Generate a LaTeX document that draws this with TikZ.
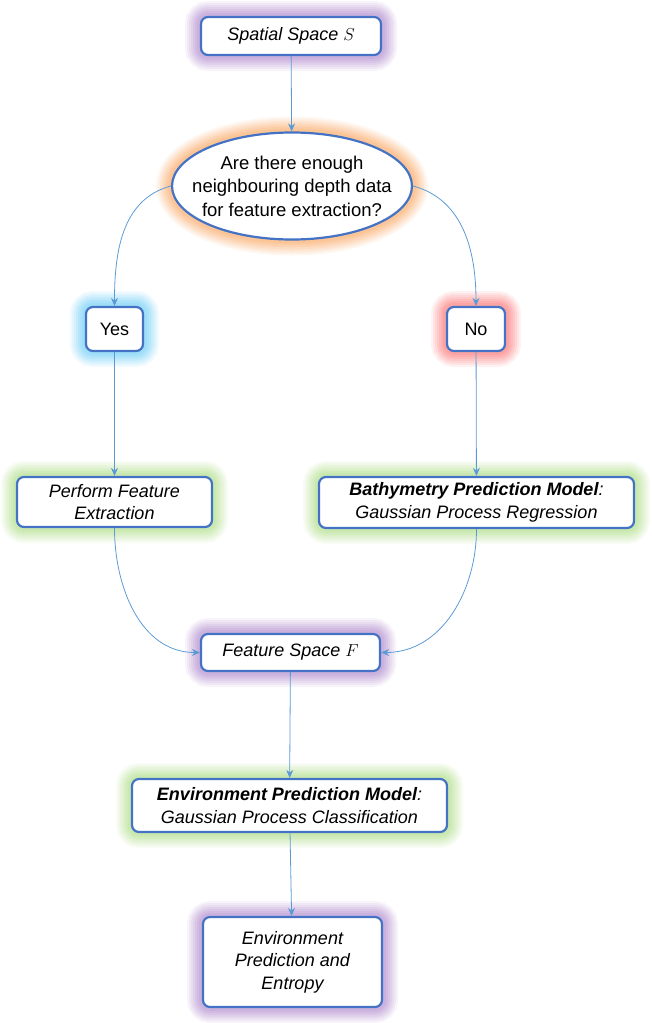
\documentclass[tikz,border=0pt]{standalone}
\usepackage{fontspec}
\setmainfont{Liberation Sans}
\usetikzlibrary{arrows.meta,shapes.geometric}
\definecolor{bordblue}{RGB}{68,114,196}
\definecolor{linkblue}{RGB}{91,155,213}
\definecolor{gpurple}{RGB}{160,115,195}
\definecolor{gorange}{RGB}{248,150,70}
\definecolor{gblue}{RGB}{80,195,245}
\definecolor{gred}{RGB}{250,90,90}
\definecolor{ggreen}{RGB}{160,215,115}
\tikzset{
  glow/.style={
    preaction={draw=#1,line width=32pt,opacity=.08},
    preaction={draw=#1,line width=28pt,opacity=.09},
    preaction={draw=#1,line width=24pt,opacity=.10},
    preaction={draw=#1,line width=20pt,opacity=.11},
    preaction={draw=#1,line width=16pt,opacity=.12},
    preaction={draw=#1,line width=12pt,opacity=.13},
    preaction={draw=#1,line width=8pt,opacity=.14}},
  box/.style={draw=bordblue,line width=2.2pt,fill=white,rounded corners=7pt,
    align=center,inner sep=2pt,font=\fontsize{18}{22.5}\selectfont\itshape},
  ell/.style={ellipse,draw=bordblue,line width=2.2pt,fill=white,align=center,
    inner xsep=-16pt,inner ysep=0pt,font=\fontsize{18.5}{23.5}\selectfont},
  link/.style={draw=linkblue,line width=0.8pt,-{Stealth[length=8pt,width=7pt]}}
}
\begin{document}
\begin{tikzpicture}[x=1pt,y=-1pt]
\useasboundingbox (0,0) rectangle (651,1023);
\node[box,glow=gpurple,minimum width=180pt,minimum height=38pt] (s) at (291,36) {Spatial Space $S$};
\node[ell,glow=gorange,minimum width=240pt,minimum height=107pt] (q) at (292,186) {Are there enough\\neighbouring depth data\\for feature extraction?};
\node[box,glow=gblue,font=\fontsize{18}{22}\selectfont,minimum width=57pt,minimum height=44pt] (yes) at (114.5,329) {Yes};
\node[box,glow=gred,font=\fontsize{18}{22}\selectfont,minimum width=58pt,minimum height=44pt] (no) at (476,329) {No};
\node[box,glow=ggreen,minimum width=195pt,minimum height=50pt] (pfe) at (114.5,502) {Perform Feature\\Extraction};
\node[box,glow=ggreen,minimum width=315pt,minimum height=51pt] (bpm) at (476.5,502.5) {\textbf{Bathymetry Prediction Model}:\\Gaussian Process Regression};
\node[box,glow=gpurple,minimum width=179pt,minimum height=37pt] (f) at (290.5,652.5) {Feature Space $F$};
\node[box,glow=ggreen,minimum width=315pt,minimum height=53pt] (epm) at (289.5,805.5) {\textbf{Environment Prediction Model}:\\Gaussian Process Classification};
\node[box,glow=gpurple,minimum width=179pt,minimum height=90pt] (ent) at (292.5,962) {Environment\\Prediction and\\Entropy};
\draw[link] (s) -- (q);
\draw[link] (q.west) to[out=195,in=90] (yes.north);
\draw[link] (q.east) to[out=-15,in=90] (no.north);
\draw[link] (yes) -- (pfe);
\draw[link] (no) -- (bpm);
\draw[link] (pfe.south) to[out=-90,in=180] (f.west);
\draw[link] (bpm.south) to[out=-90,in=0] (f.east);
\draw[link] (f) -- (epm);
\draw[link] (epm) -- (ent);
\end{tikzpicture}
\end{document}
